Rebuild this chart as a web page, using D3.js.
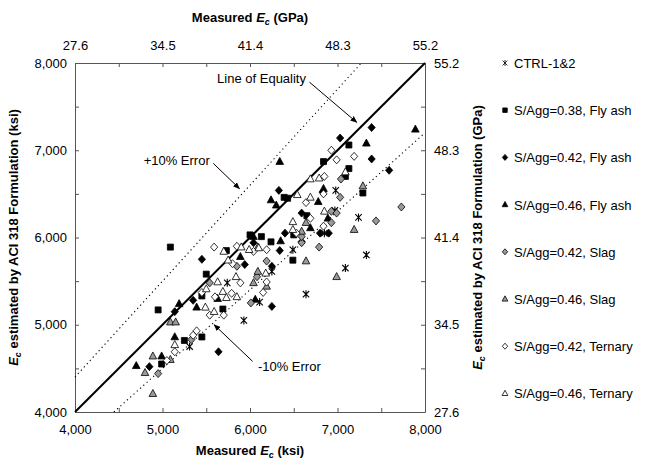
<!DOCTYPE html>
<html>
<head>
<meta charset="utf-8">
<script src="https://cdn.jsdelivr.net/npm/d3@7"></script>
<style>
body { margin: 0; background: #fff; }
text { font-family: "Liberation Sans", Arial, sans-serif; }
</style>
</head>
<body>
<script>

svgWidth = 649
svgHeight = 463
margin = {"top": 63, "bottom": 51, "left": 75, "right": 224}
chartWidth = svgWidth - (margin.left + margin.right)
chartHeight = svgHeight - (margin.top + margin.bottom)

// measured (ksi), estimated (ksi)
var ctrl = [[5740,5480],[5930,5050],[5310,4750],[6490,5860],[7330,5800],[6250,5610],[7090,5650],
            [6640,5350],[6110,5260],[6980,6540],[6970,6310],[6850,6050],[7240,6230]]
var fa38 = [[5730,5850],[5500,5580],[5450,5330],[4950,5170],[5690,5180],[5450,4860],[5250,4820],
            [4990,4550],[6240,5950],[6490,5740],[6840,6870],[7130,7060],[7130,6790],[7090,6700],
            [6390,6460],[6430,6450],[7290,6510],[6650,6250],[6500,6030],[6130,6010],[6000,6030],[5090,5890]]
var fa42 = [[5450,5750],[5940,5690],[5350,5280],[5140,5150],[5640,4690],[4850,4520],[6040,5940],
            [6340,5850],[6250,5670],[6250,5210],[7030,7140],[7390,7260],[7390,6900],[7590,6770],
            [6330,6540],[6590,6280],[6800,6050],[6900,6050],[6400,6050],[6590,5950],[6830,6520]]
var fa46 = [[5890,5780],[5630,5300],[5190,5240],[5390,5200],[5140,4860],[4990,4640],[4700,4530],
            [6350,5960],[6060,5290],[6340,6870],[6240,6430],[6300,6370],[6840,6560],[6780,6410],
            [6890,6220],[6690,6110],[6040,6010],[7890,7240],[7330,7080]]
var slag42 = [[5850,5670],[5540,5480],[5330,4830],[4950,4440],[6590,5940],[6790,5890],[6190,5730],
              [6080,5550],[6010,5250],[7040,6670],[7030,6460],[6930,6300],[6990,6280],[6930,6170],
              [6590,6010],[7730,6350],[7440,6190]]
var slag46 = [[5090,5030],[5150,5030],[4890,4640],[5090,4600],[4800,4450],[4890,4210],[6090,5890],
              [6640,5730],[6090,5610],[6990,5550],[6040,5480],[6190,5440],[6640,6170],[6590,6070],
              [7290,6590],[7190,6090]]
var ter42 = [[5800,5700],[5890,5480],[5450,5370],[5600,5320],[5790,5360],[5540,5110],[5700,5110],
             [5390,4930],[5350,4880],[5140,4690],[5050,4590],[6190,5860],[6190,5490],[6150,5370],
             [6930,7000],[6990,6890],[6850,6700],[6840,6500],[6640,6400],[6690,6220],[6840,6130],
             [6530,6050],[5590,5890],[5850,5900],[6040,5840],[7190,6930]]
var ter46 = [[5700,5840],[5750,5740],[5630,5490],[5840,5550],[5500,5410],[5690,5380],[5850,5320],
             [5730,5310],[5490,5200],[5590,5150],[5140,4770],[6180,5590],[7090,6750],[6690,6670],
             [6790,6680],[6540,6490],[6690,6460],[6850,6300],[6490,6090],[6490,6180],[5900,5890],
             [6100,5880],[5990,5860]]

var seriesNames = ['CTRL-1&2', 'S/Agg=0.38, Fly ash', 'S/Agg=0.42, Fly ash', 'S/Agg=0.46, Fly ash',
                   'S/Agg=0.42, Slag', 'S/Agg=0.46, Slag', 'S/Agg=0.42, Ternary', 'S/Agg=0.46, Ternary']
var seriesData = [ctrl, fa38, fa42, fa46, slag42, slag46, ter42, ter46]
var shapes = ['star', 'square', 'diamond', 'triangle', 'diamond', 'triangle', 'diamond', 'triangle']
var fills = ['none', '#000', '#000', '#000', '#999', '#999', '#fff', '#fff']

var ksiTicks = [4000, 5000, 6000, 7000, 8000]
var gpaLabels = ['27.6', '34.5', '41.4', '48.3', '55.2']

function shapePath(type, k) {
  if (type == 'square') return 'M' + (-3*k) + ',' + (-3*k) + 'h' + 6*k + 'v' + 6*k + 'h' + (-6*k) + 'Z'
  if (type == 'diamond') return 'M0,' + (-4*k) + 'L' + 3.6*k + ',0L0,' + 4*k + 'L' + (-3.6*k) + ',0Z'
  if (type == 'triangle') return 'M0,' + (-4.2*k) + 'L' + 3.8*k + ',' + 2.8*k + 'L' + (-3.8*k) + ',' + 2.8*k + 'Z'
  // asterisk: x plus vertical bar
  return 'M' + (-3.2*k) + ',' + (-3.2*k) + 'L' + 3.2*k + ',' + 3.2*k +
         'M' + (-3.2*k) + ',' + 3.2*k + 'L' + 3.2*k + ',' + (-3.2*k) +
         'M0,' + (-4*k) + 'V' + 4*k
}

xScale = d3.scaleLinear().domain([4000, 8000]).range([0, chartWidth])
yScale = d3.scaleLinear().domain([4000, 8000]).range([chartHeight, 0])

var svg = d3.select("body").append("svg")
          .attr("width", svgWidth)
          .attr("height", svgHeight)

var g = svg.append('g')
    .attr('transform', 'translate(' + margin.left + ',' + margin.top + ')')

var fmt = d3.format(',')
var halfTicks = d3.range(4000, 8001, 500)

function styleAxis(sel) {
  sel.select('.domain').attr('stroke', '#555')
  sel.selectAll('.tick line').attr('stroke', '#555')
  sel.selectAll('.tick text').attr('font-size', 13).attr('fill', '#000')
    .attr('font-family', '"Liberation Sans", Arial, sans-serif')
}

g.append('g')
    .attr('transform', 'translate(0,' + chartHeight + ')')
    .call(d3.axisBottom(xScale).tickValues(halfTicks).tickSizeInner(-4).tickSizeOuter(0).tickPadding(13)
      .tickFormat(function(d) { return ksiTicks.includes(d) ? fmt(d) : '' }))
    .call(styleAxis)

g.append('g')
    .call(d3.axisTop(xScale).tickValues(halfTicks).tickSizeInner(-4).tickSizeOuter(0).tickPadding(13)
      .tickFormat(function(d) { var i = ksiTicks.indexOf(d); return i < 0 ? '' : gpaLabels[i] }))
    .call(styleAxis)

g.append('g')
    .call(d3.axisLeft(yScale).tickValues(halfTicks).tickSizeInner(-4).tickSizeOuter(0).tickPadding(8)
      .tickFormat(function(d) { return ksiTicks.includes(d) ? fmt(d) : '' }))
    .call(styleAxis)

g.append('g')
    .attr('transform', 'translate(' + chartWidth + ',0)')
    .call(d3.axisRight(yScale).tickValues(halfTicks).tickSizeInner(-4).tickSizeOuter(0).tickPadding(9)
      .tickFormat(function(d) { var i = ksiTicks.indexOf(d); return i < 0 ? '' : gpaLabels[i] }))
    .call(styleAxis)

// reference lines
var line = d3.line().x(function(d) { return xScale(d[0]) }).y(function(d) { return yScale(d[1]) })

g.append('path').attr('d', line([[4000, 4000], [8000, 8000]]))
    .attr('stroke', '#000').attr('stroke-width', 2).attr('fill', 'none')
g.append('path').attr('d', line([[4000, 4400], [8000 / 1.1, 8000]]))
    .attr('stroke', '#000').attr('stroke-width', 1.1).attr('stroke-dasharray', '1.2,3.2').attr('fill', 'none')
g.append('path').attr('d', line([[4000 / 0.9, 4000], [8000, 7200]]))
    .attr('stroke', '#000').attr('stroke-width', 1.1).attr('stroke-dasharray', '1.2,3.2').attr('fill', 'none')

// points
seriesData.forEach(function(data, si) {
  g.selectAll('.pt' + si)
    .data(data)
    .enter().append('path')
      .attr('class', 'pt' + si)
      .attr('d', shapePath(shapes[si], 1))
      .attr('transform', function(d) { return 'translate(' + xScale(d[0]) + ',' + yScale(d[1]) + ')' })
      .attr('fill', fills[si])
      .attr('stroke', '#000')
      .attr('stroke-width', si == 0 ? 1.1 : 0.8)
})

// annotations
svg.append('defs').append('marker')
    .attr('id', 'arr').attr('viewBox', '0 0 10 10').attr('refX', 9).attr('refY', 5)
    .attr('markerWidth', 7).attr('markerHeight', 7).attr('orient', 'auto')
  .append('path').attr('d', 'M0,1L10,5L0,9Z').attr('fill', '#000')

var notes = [
  {text: 'Line of Equality', tx: 6640, ty: 7770, anchor: 'end', from: [6680, 7780], to: [7220, 7320]},
  {text: '+10% Error', tx: 5540, ty: 6830, anchor: 'end', from: [5580, 6850], to: [5880, 6560]},
  {text: '-10% Error', tx: 6090, ty: 4470, anchor: 'start', from: [6030, 4580], to: [5590, 5000]}
]
notes.forEach(function(n) {
  g.append('text').attr('x', xScale(n.tx)).attr('y', yScale(n.ty))
    .attr('text-anchor', n.anchor).attr('font-size', 13).text(n.text)
  g.append('line')
    .attr('x1', xScale(n.from[0])).attr('y1', yScale(n.from[1]))
    .attr('x2', xScale(n.to[0])).attr('y2', yScale(n.to[1]))
    .attr('stroke', '#000').attr('stroke-width', 1).attr('marker-end', 'url(#arr)')
})

// axis titles
function ecTitle(sel, rest) {
  sel.attr('font-size', 13).attr('font-weight', 'bold').attr('text-anchor', 'middle')
  sel.append('tspan').attr('font-style', 'italic').text('E')
  sel.append('tspan').attr('font-style', 'italic').attr('font-size', 9).attr('dy', 3).text('c')
  sel.append('tspan').attr('dy', -3).text(rest)
}

svg.append('text').attr('x', margin.left + chartWidth / 2).attr('y', 455)
    .call(function(s) { s.append('tspan').text('Measured ') })
    .call(ecTitle, ' (ksi)')
svg.append('text').attr('x', margin.left + chartWidth / 2).attr('y', 22)
    .call(function(s) { s.append('tspan').text('Measured ') })
    .call(ecTitle, ' (GPa)')
svg.append('text')
    .attr('transform', 'translate(18,' + (margin.top + chartHeight / 2) + ') rotate(-90)')
    .call(ecTitle, ' estimated by ACI 318 Formulation (ksi)')
svg.append('text')
    .attr('transform', 'translate(482,' + (margin.top + chartHeight / 2) + ') rotate(-90)')
    .call(ecTitle, ' estimated by ACI 318 Formulation (GPa)')

// legend
var legend = svg.selectAll('.legend')
    .data(seriesNames)
    .enter().append('g')
      .attr('class', 'legend')
      .attr('transform', function(d, i) { return 'translate(505,' + (margin.top + i * 47.2) + ')' })

legend.append('path')
    .attr('d', function(d, i) { return shapePath(shapes[i], 0.75) })
    .attr('fill', function(d, i) { return fills[i] })
    .attr('stroke', '#000')
    .attr('stroke-width', 0.8)

legend.append('text')
    .attr('x', 9).attr('y', 5)
    .attr('font-size', 13)
    .text(function(d) { return d })

</script>
</body>
</html>
